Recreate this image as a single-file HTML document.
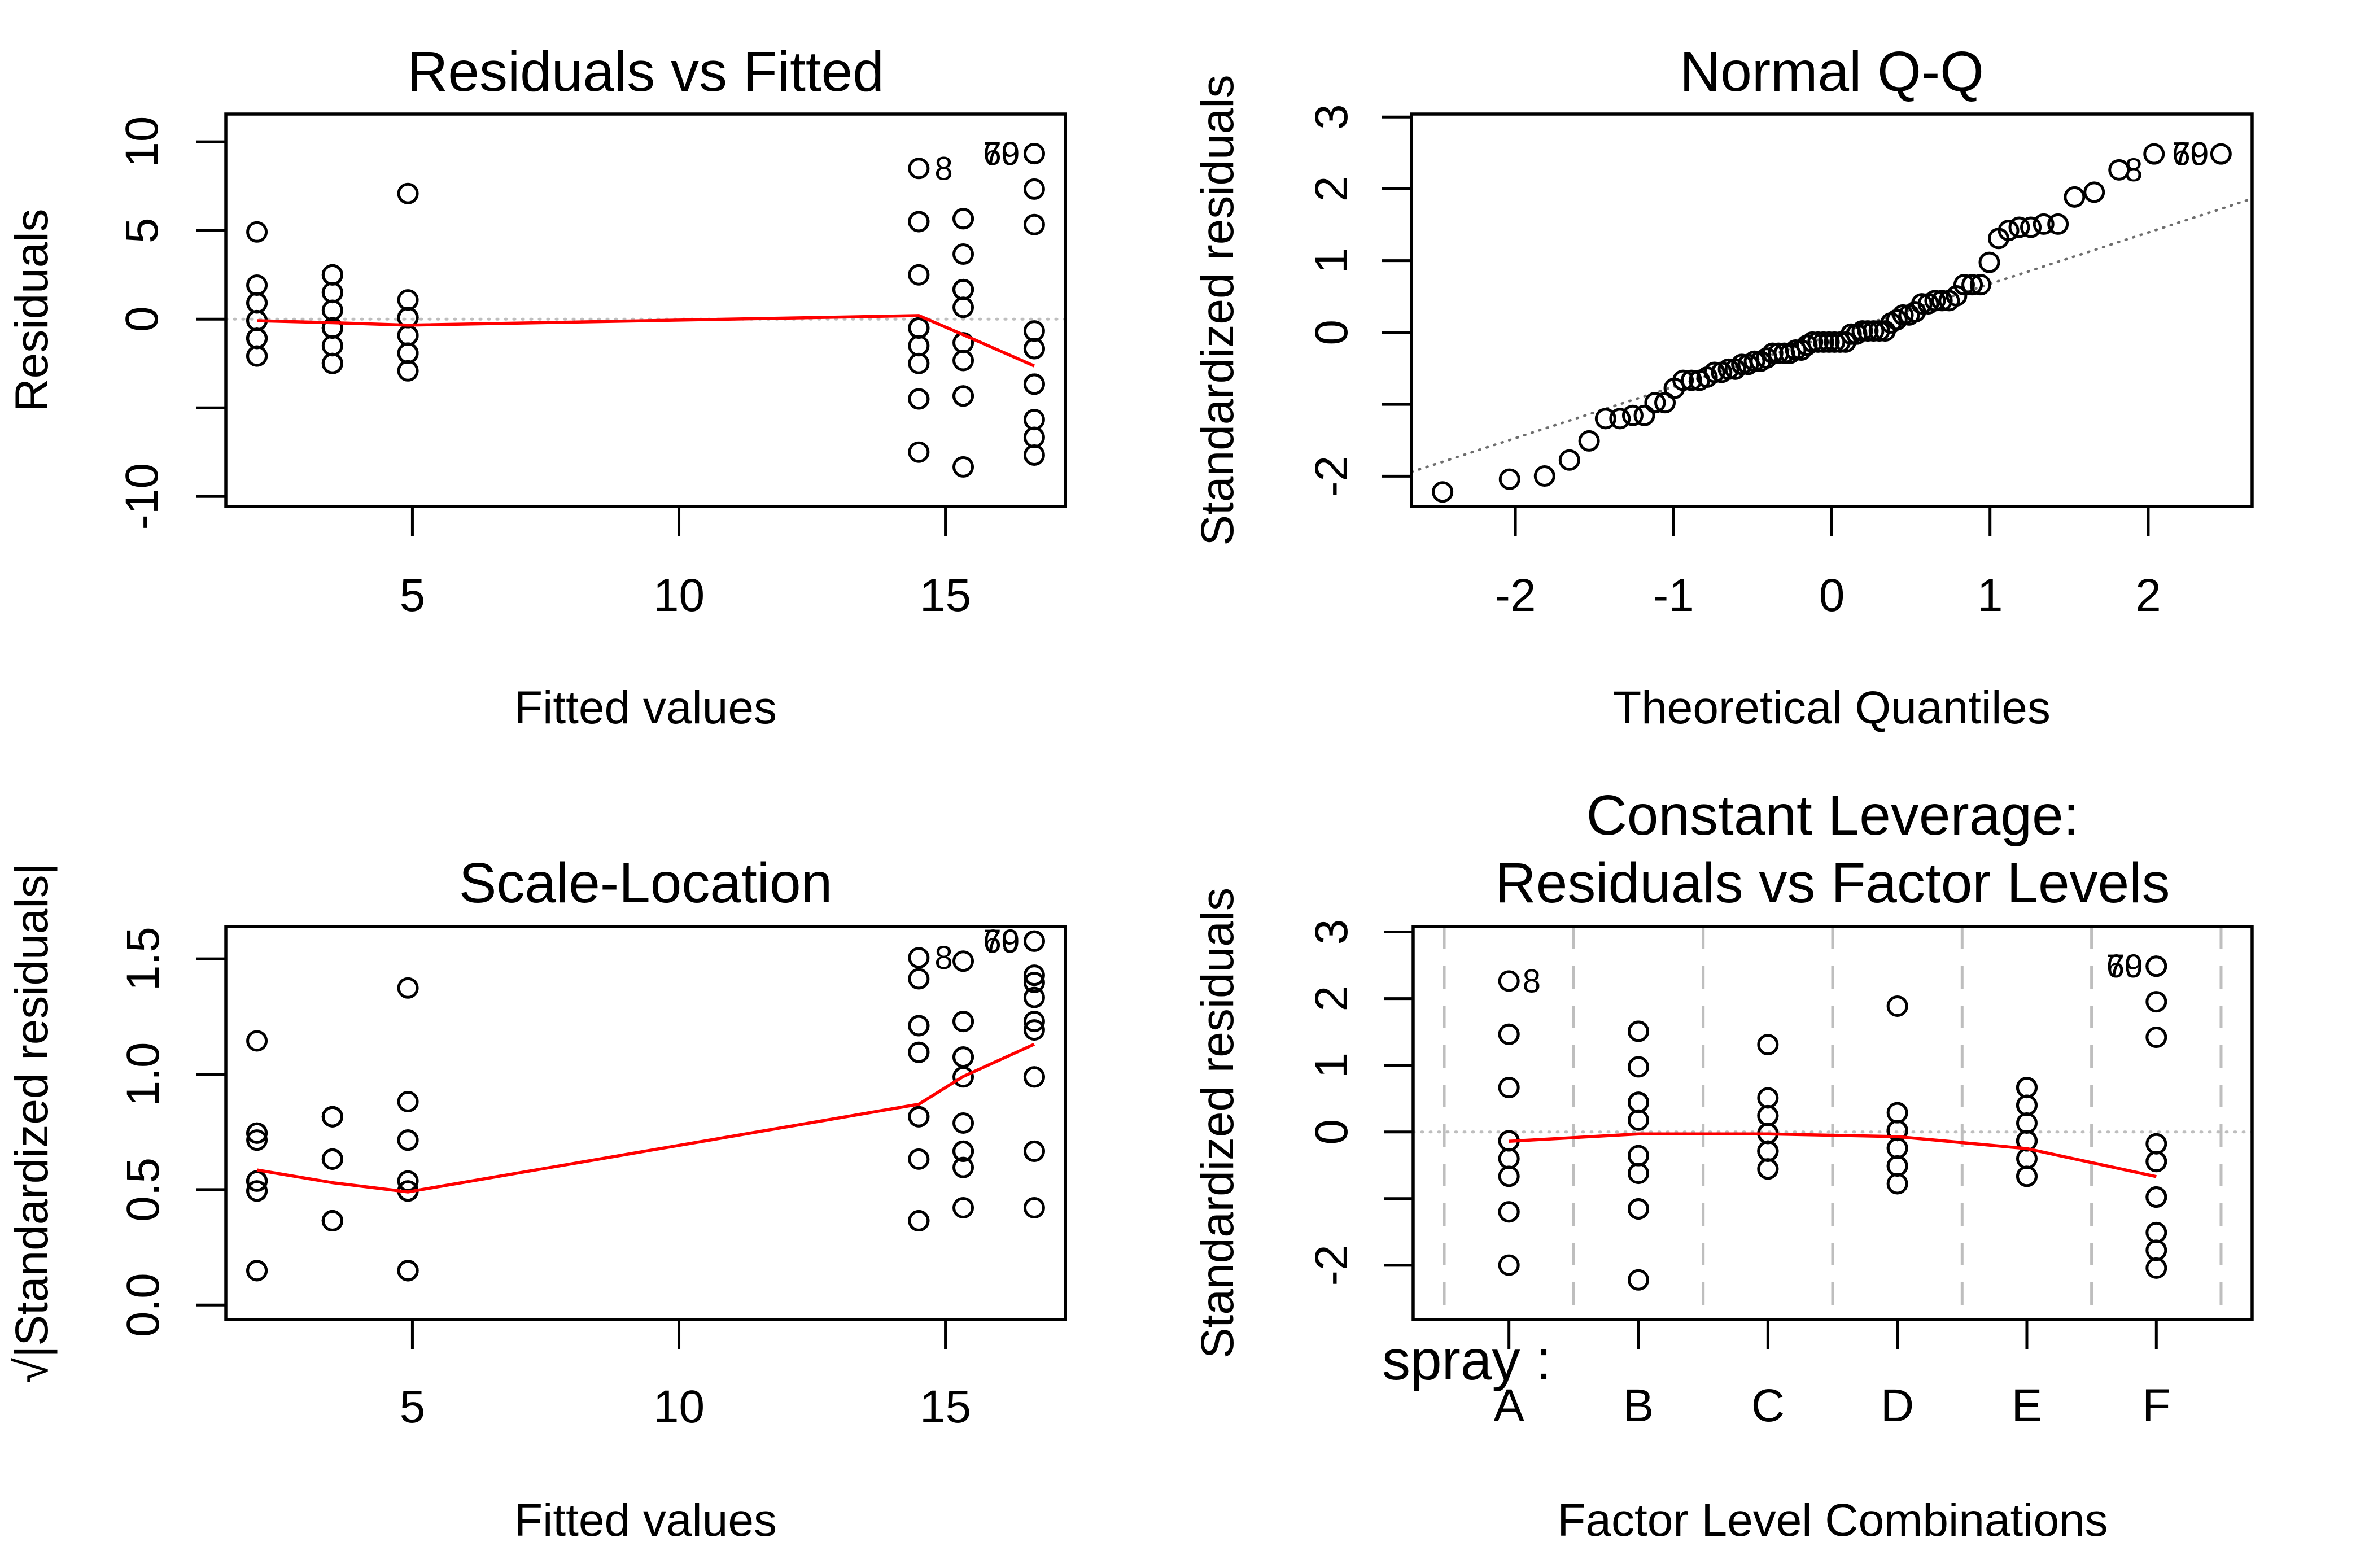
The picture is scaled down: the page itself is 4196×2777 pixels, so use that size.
<!DOCTYPE html>
<html><head><meta charset="utf-8"><style>
html,body{margin:0;padding:0;background:#fff}
svg{display:block}
text{font-family:"Liberation Sans",Arial,sans-serif;fill:#000}
</style></head><body>
<svg id="fig" xmlns="http://www.w3.org/2000/svg" width="4196" height="2777" viewBox="0 0 4196 2777"></svg>
<script>
// ---- data (InsectSprays) ----
const levels = ["A","B","C","D","E","F"];
const countsA = [10,7,20,14,14,12,10,23,17,20,14,13];
const countsB = [11,17,21,11,16,14,17,17,19,21,7,13];
const countsC = [0,1,7,2,3,1,2,1,3,0,1,4];
const countsD = [3,5,12,6,4,3,5,5,5,5,2,4];
const countsE = [3,5,3,5,3,6,1,1,3,2,6,4];
const countsF = [11,9,15,22,15,16,13,10,26,26,24,13];
// smoother (red line) values, per level A..F
const smoothRes = [0.2,-0.88,-0.09,-0.34,-0.2,-2.64];
const smoothScale = [0.87,0.99,0.585,0.49,0.53,1.13];
const smoothFactor = [-0.14,-0.03,-0.03,-0.07,-0.25,-0.67];
const ticksFitted = [5,10,15];
const ticksRes = [10,5,0,-5,-10];
const labelsRes = ["10","5","0","","-10"];
const ticksQx = [-2,-1,0,1,2];
const ticksStd = [3,2,1,0,-1,-2];
const labelsStd = ["3","2","1","0","","-2"];
const ticksScale = [0,0.5,1,1.5];
const labelsScale = ["0.0","0.5","1.0","1.5"];

const groups=[countsA,countsB,countsC,countsD,countsE,countsF];
const obs=[];
groups.forEach((g,gi)=>{const m=g.reduce((a,b)=>a+b,0)/g.length;g.forEach(v=>obs.push({g:gi,y:v,fit:m,r:v-m}));});
obs.forEach((o,i)=>o.id=i+1);
const n=obs.length, dfres=n-groups.length;
const sigma=Math.sqrt(obs.reduce((a,o)=>a+o.r*o.r,0)/dfres);
obs.forEach(o=>{o.h=1/groups[o.g].length;o.rs=o.r/(sigma*Math.sqrt(1-o.h));o.sq=Math.sqrt(Math.abs(o.rs));});

function qnorm(p){const a=[-39.69683028665376,220.9460984245205,-275.9285104469687,138.3577518672690,-30.66479806614716,2.506628277459239],b=[-54.47609879822406,161.5858368580409,-155.6989798598866,66.80131188771720,-13.28068155288572],c=[-0.007784894002430293,-0.3223964580411365,-2.400758277161838,-2.549732539343734,4.374664141464968,2.938163982698783],d=[0.007784695709041462,0.3224671290700398,2.445134137142996,3.754408661907416];let q,r;if(p<0.02425){q=Math.sqrt(-2*Math.log(p));return(((((c[0]*q+c[1])*q+c[2])*q+c[3])*q+c[4])*q+c[5])/((((d[0]*q+d[1])*q+d[2])*q+d[3])*q+1);}if(p>1-0.02425){q=Math.sqrt(-2*Math.log(1-p));return-(((((c[0]*q+c[1])*q+c[2])*q+c[3])*q+c[4])*q+c[5])/((((d[0]*q+d[1])*q+d[2])*q+d[3])*q+1);}q=p-0.5;r=q*q;return(((((a[0]*r+a[1])*r+a[2])*r+a[3])*r+a[4])*r+a[5])*q/(((((b[0]*r+b[1])*r+b[2])*r+b[3])*r+b[4])*r+1);}

const NS="http://www.w3.org/2000/svg";
const svg=document.getElementById('fig');
function el(tag,attrs,parent){const e=document.createElementNS(NS,tag);for(const k in attrs)e.setAttribute(k,attrs[k]);(parent||svg).appendChild(e);return e;}
function txt(s,attrs,parent){const e=el('text',attrs,parent);e.textContent=s;return e;}
function ext(lo,hi,f){const d=(hi-lo)*f;return[lo-d,hi+d];}
function scale(dom,px){return v=>px[0]+(v-dom[0])/(dom[1]-dom[0])*(px[1]-px[0]);}

const TF=100, AF=82, LF=58;
function panel(name,box,xd,yd){
  const g=el('g',{});
  
  
  return {g,box,X:scale(xd,[box[0],box[2]]),Y:scale(yd,[box[3],box[1]])};
}
function frame(P){
  const r=el('rect',{x:P.box[0],y:P.box[1],width:P.box[2]-P.box[0],height:P.box[3]-P.box[1],fill:'none',stroke:'#000','stroke-width':5.5},P.g);
  
  
}
function xaxis(P,ticks,labels,ly){
  const ax=el('g',{},P.g);
  
  
  ticks.forEach((t,i)=>{const x=P.X(t);
    el('line',{x1:x,x2:x,y1:P.box[3],y2:P.box[3]+52,stroke:'#000','stroke-width':5},ax);
    if(labels[i]!==''){const tl=txt(labels[i],{x:x,y:ly,'font-size':AF,'text-anchor':'middle'},ax);
    
    }
  });
}
function yaxis(P,ticks,labels,bx){
  const ax=el('g',{},P.g);
  
  
  ticks.forEach((t,i)=>{const y=P.Y(t);
    el('line',{x1:P.box[0]-52,x2:P.box[0],y1:y,y2:y,stroke:'#000','stroke-width':5},ax);
    if(labels[i]!==''){const tl=txt(labels[i],{x:0,y:0,'font-size':AF,'text-anchor':'middle',transform:`translate(${bx},${y}) rotate(-90)`},ax);
    
    }
  });
}
function titles(P,title,titleY,xl,xlY,yl,ylX){
  const cx=(P.box[0]+P.box[2])/2, cy=(P.box[1]+P.box[3])/2;
  (Array.isArray(title)?title:[title]).forEach((t,i)=>{const e=txt(t,{x:cx,y:titleY[i],'font-size':TF,'text-anchor':'middle'},P.g);
    
    });
  const a=txt(xl,{x:cx,y:xlY,'font-size':AF,'text-anchor':'middle'},P.g);
  
  
  const b=txt(yl,{x:0,y:0,'font-size':AF,'text-anchor':'middle',transform:`translate(${ylX},${cy}) rotate(-90)`},P.g);
  
  
}
function pts(P,arr){
  const pg=el('g',{},P.g);
  
  
  arr.forEach(([x,y])=>{const c=el('circle',{cx:P.X(x),cy:P.Y(y),r:16.5,fill:'none',stroke:'#000','stroke-width':5},pg);
    
    });
}
function redline(P,xs,ys){
  const order=xs.map((x,i)=>i).sort((a,b)=>xs[a]-xs[b]);
  const p=el('polyline',{points:order.map(i=>P.X(xs[i])+','+P.Y(ys[i])).join(' '),fill:'none',stroke:'#ff0000','stroke-width':5.5},P.g);
  
  
}
function hzero(P){
  const l=el('line',{x1:P.box[0],x2:P.box[2],y1:P.Y(0),y2:P.Y(0),stroke:'#bebebe','stroke-width':5,'stroke-dasharray':'2 13','stroke-linecap':'round'},P.g);
  
  
}
function idlab(P,s,x,y,anchor,dx){
  const e=txt(s,{x:P.X(x)+dx,y:P.Y(y)+20,'font-size':LF,'text-anchor':anchor},P.g);
  
  
}
const groupMeans=groups.map(g=>g.reduce((a,b)=>a+b,0)/g.length);
const fits=obs.map(o=>o.fit);
const fmin=Math.min(...fits),fmax=Math.max(...fits);
const xdF=ext(fmin,fmax,0.04);
const byAbs=obs.slice().sort((a,b)=>Math.abs(b.r)-Math.abs(a.r)).slice(0,3);

// ---- Panel 1: Residuals vs Fitted ----
{const rr=obs.map(o=>o.r);let yl=ext(Math.min(...rr),Math.max(...rr),0.08);yl=ext(yl[0],yl[1],0.04);
const P=panel('residuals-vs-fitted-panel',[400,202,1887,897],xdF,yl);
hzero(P);pts(P,obs.map(o=>[o.fit,o.r]));redline(P,groupMeans,smoothRes);frame(P);
xaxis(P,ticksFitted,ticksFitted.map(String),1082);yaxis(P,ticksRes,labelsRes,279);
titles(P,'Residuals vs Fitted',[161],'Fitted values',1281,'Residuals',84);
byAbs.forEach(o=>{const left=o.fit>16;idlab(P,String(o.id),o.fit,o.r,left?'end':'start',left?-26:28);});}

// ---- Panel 2: Normal Q-Q ----
{const srt=obs.slice().sort((a,b)=>a.rs-b.rs);const th=srt.map((o,i)=>qnorm((i+1-0.5)/n));
const rsv=srt.map(o=>o.rs);let yl=[rsv[0],rsv[n-1]];yl[1]+= (yl[1]-yl[0])*0.075;yl=ext(yl[0],yl[1],0.04);
const xd=ext(th[0],th[n-1],0.04);
const P=panel('normal-qq-panel',[2500,202,3989,897],xd,yl);
function q7(p){const h=(n-1)*p,lo=Math.floor(h);return rsv[lo]+(h-lo)*(rsv[lo+1]-rsv[lo]);}
const z1=qnorm(0.25),z3=qnorm(0.75),y1=q7(0.25),y3=q7(0.75);const sl=(y3-y1)/(z3-z1),ic=y1-sl*z1;
const ql=el('line',{x1:P.X(xd[0]),y1:P.Y(ic+sl*xd[0]),x2:P.X(xd[1]),y2:P.Y(ic+sl*xd[1]),stroke:'#6e6e6e','stroke-width':4.5,'stroke-dasharray':'2 12','stroke-linecap':'round'},P.g);


const cp=el('clipPath',{id:'c2'});el('rect',{x:2500,y:202,width:1489,height:695},cp);ql.setAttribute('clip-path','url(#c2)');
pts(P,srt.map((o,i)=>[th[i],o.rs]));frame(P);
xaxis(P,ticksQx,ticksQx.map(String),1082);yaxis(P,ticksStd,labelsStd,2386);
titles(P,'Normal Q-Q',[161],'Theoretical Quantiles',1281,'Standardized residuals',2184);
idlab(P,String(srt[n-3].id),th[n-2],rsv[n-3],'end',-20);
idlab(P,String(srt[n-1].id),th[n-1],rsv[n-1],'end',-22);
idlab(P,String(srt[n-2].id),th[n-1],rsv[n-2],'end',-22);}

// ---- Panel 3: Scale-Location ----
{const sq=obs.map(o=>o.sq);const yl=ext(0,Math.max(...sq),0.04);
const P=panel('scale-location-panel',[400,1641,1887,2337],xdF,yl);
pts(P,obs.map(o=>[o.fit,o.sq]));redline(P,groupMeans,smoothScale);frame(P);
xaxis(P,ticksFitted,ticksFitted.map(String),2519);yaxis(P,ticksScale,labelsScale,281);
titles(P,'Scale-Location',[1598],'Fitted values',2720,'\u221A|Standardized residuals|',84);
byAbs.forEach(o=>{const left=o.fit>16;idlab(P,String(o.id),o.fit,o.sq,left?'end':'start',left?-26:28);});}

// ---- Panel 4: Constant Leverage ----
{const rsv=obs.map(o=>o.rs);let yl=ext(Math.min(...rsv),Math.max(...rsv),0.08);yl=ext(yl[0],yl[1],0.04);
const xd=ext(-0.5,levels.length-0.5,0.04);
const P=panel('residuals-vs-factor-levels-panel',[2503,1641,3989,2337],xd,yl);
for(let k=0;k<=levels.length;k++){const x=P.X(k-0.5);const l=el('line',{x1:x,x2:x,y1:P.box[1],y2:P.box[3],stroke:'#bebebe','stroke-width':5,'stroke-dasharray':'40 30'},P.g);

}
hzero(P);pts(P,obs.map(o=>[o.g,o.rs]));redline(P,levels.map((l,i)=>i),smoothFactor);frame(P);
xaxis(P,levels.map((l,i)=>i),levels,2517);yaxis(P,ticksStd,labelsStd,2386);
const sp=txt('spray :',{x:2448,y:2443,'font-size':100},P.g);


titles(P,['Constant Leverage:','Residuals vs Factor Levels'],[1478,1598],'Factor Level Combinations',2720,'Standardized residuals',2184);
byAbs.forEach(o=>{const left=o.g>=5;idlab(P,String(o.id),o.g,o.rs,left?'end':'start',left?-24:24);});}
</script>
</body></html>
